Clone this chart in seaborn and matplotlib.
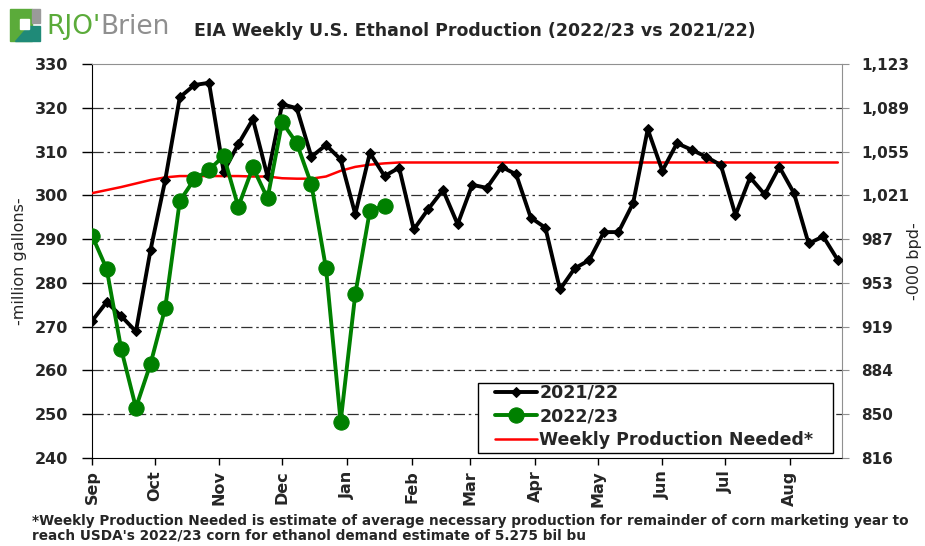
import numpy as np
import pandas as pd
import matplotlib.pyplot as plt
import matplotlib.dates as mdates
from matplotlib.patches import Rectangle, Polygon
import seaborn as sns

sns.set_style('white')
plt.rcParams['font.family'] = ['DejaVu Sans']

# weekly production, million gallons
prod_2122 = [271.3, 275.6, 272.4, 268.9, 287.5, 303.4, 322.4, 325.2, 325.7, 305.4,
             311.7, 317.4, 304.3, 320.8, 319.9, 308.8, 311.5, 308.2, 295.7, 309.7,
             304.4, 306.3, 292.2, 296.9, 301.2, 293.4, 302.4, 301.7, 306.5, 304.8,
             294.9, 292.6, 278.5, 283.3, 285.2, 291.6, 291.6, 298.2, 315.1, 305.6,
             311.9, 310.4, 308.8, 306.9, 295.5, 304.1, 300.2, 306.5, 300.5, 289.0,
             290.6, 285.2]
prod_2223 = [290.8, 283.2, 264.8, 251.5, 261.5, 274.2, 298.7, 303.7, 305.8, 309.0,
             297.4, 306.4, 299.3, 316.7, 311.9, 302.5, 283.3, 248.3, 277.4, 296.5,
             297.6]
needed = [300.5, 301.2, 301.9, 302.7, 303.5, 304.1, 304.4, 304.4, 304.4, 304.4,
          304.4, 304.3, 304.3, 303.9, 303.8, 303.8, 304.3, 305.6, 306.5, 307.0,
          307.3] + [307.5] * 31

left_ticks = [240, 250, 260, 270, 280, 290, 300, 310, 320, 330]
bpd_labels = ['816', '850', '884', '919', '953', '987', '1,021', '1,055', '1,089', '1,123']

weeks = pd.date_range('2021-09-01', periods=len(prod_2122), freq='7D')

fig = plt.figure(figsize=(9.25, 5.46), dpi=100)
ax = fig.add_axes([0.0995, 0.1612, 0.8108, 0.7216])

sns.lineplot(x=weeks, y=needed, ax=ax, color='#ff0000', lw=1.8,
             label='Weekly Production Needed*', zorder=3)
sns.lineplot(x=weeks, y=prod_2122, ax=ax, color='black', lw=2.8, marker='D',
             markersize=5, markeredgecolor='black', label='2021/22', zorder=4)
sns.lineplot(x=weeks[:len(prod_2223)], y=prod_2223, ax=ax, color='#008000', lw=2.8,
             marker='o', markersize=11, markeredgecolor='#008000', label='2022/23', zorder=5)

ax.set_ylim(240, 330)
ax.set_yticks(left_ticks)
ax.set_xlim(pd.Timestamp('2021-09-01'), pd.Timestamp('2021-09-01') + pd.Timedelta(days=359))
ax.xaxis.set_major_locator(mdates.MonthLocator())
ax.xaxis.set_major_formatter(mdates.DateFormatter('%b'))
for y in left_ticks[1:-1]:
    ax.axhline(y, color='#303030', lw=0.9, ls=(0, (9, 3, 2, 3)), zorder=1)

ax.tick_params(axis='y', direction='out', length=7, width=1, color='black',
               labelsize=11.5, left=True, pad=10)
ax.tick_params(axis='x', direction='out', length=5, width=1, color='black',
               labelsize=11.5, bottom=True, pad=4)
for lab in ax.get_xticklabels():
    lab.set_rotation(90)
    lab.set_fontweight('bold')
for lab in ax.get_yticklabels():
    lab.set_fontweight('bold')
ax.set_ylabel('-million gallons-', fontsize=11.5, labelpad=6)
ax.set_xlabel('')

for side in ['left', 'bottom']:
    ax.spines[side].set_color('black')
for side in ['top', 'right']:
    ax.spines[side].set_color('#909090')

ax2 = ax.twinx()
ax2.set_ylim(240, 330)
ax2.set_yticks(left_ticks)
ax2.set_yticklabels(bpd_labels, fontweight='bold')
ax2.tick_params(axis='y', direction='out', length=5, color='#909090', labelsize=11,
                right=True, pad=9)
ax2.set_ylabel('-000 bpd-', fontsize=11.5, rotation=90, ha='center', va='center')
ax2.yaxis.set_label_coords(1.097, 0.5)
for s in ax2.spines.values():
    s.set_visible(False)

# legend: frame drawn as its own box so the padding matches the original
h, l = ax.get_legend_handles_labels()
order = [1, 2, 0]
leg = ax.legend([h[i] for i in order], [l[i] for i in order], loc='upper left',
                bbox_to_anchor=(0.5373, 0.188), prop={'size': 12.5, 'weight': 'bold'},
                frameon=False, handlelength=2.4, handletextpad=0.15, borderpad=0,
                borderaxespad=0, labelspacing=0.32)
leg.set_zorder(10)
ax.add_patch(Rectangle((0.5147, 0.0127), 0.4733, 0.1777, transform=ax.transAxes,
                       facecolor='white', edgecolor='black', lw=1.0, zorder=9))

fig.text(0.513, 0.944, 'EIA Weekly U.S. Ethanol Production (2022/23 vs 2021/22)',
         ha='center', va='center', fontsize=12.5, fontweight='bold')

# logo
fig.patches.append(Rectangle((0.011, 0.925), 0.024, 0.058, transform=fig.transFigure,
                             color='#5bab3a'))
fig.patches.append(Rectangle((0.035, 0.957), 0.008, 0.026, transform=fig.transFigure,
                             color='#9a9a9a'))
fig.patches.append(Polygon([(0.016, 0.925), (0.043, 0.925), (0.043, 0.952), (0.030, 0.952)],
                           closed=True, transform=fig.transFigure, color='#1f8a78'))
fig.patches.append(Rectangle((0.022, 0.946), 0.009, 0.020, transform=fig.transFigure,
                             color='white'))
fig.text(0.050, 0.950, "RJO'", color='#5bab3a', fontsize=19, va='center', ha='left')
fig.text(0.108, 0.950, 'Brien', color='#8f8f8f', fontsize=19, va='center', ha='left')

foot = ('*Weekly Production Needed is estimate of average necessary production for remainder '
        'of corn marketing year to\nreach USDA\'s 2022/23 corn for ethanol demand estimate of 5.275 bil bu')
fig.text(0.035, 0.006, foot, ha='left', va='bottom', fontsize=9.8, fontweight='bold',
         linespacing=1.05)

fig.savefig('out.png', dpi=100)
